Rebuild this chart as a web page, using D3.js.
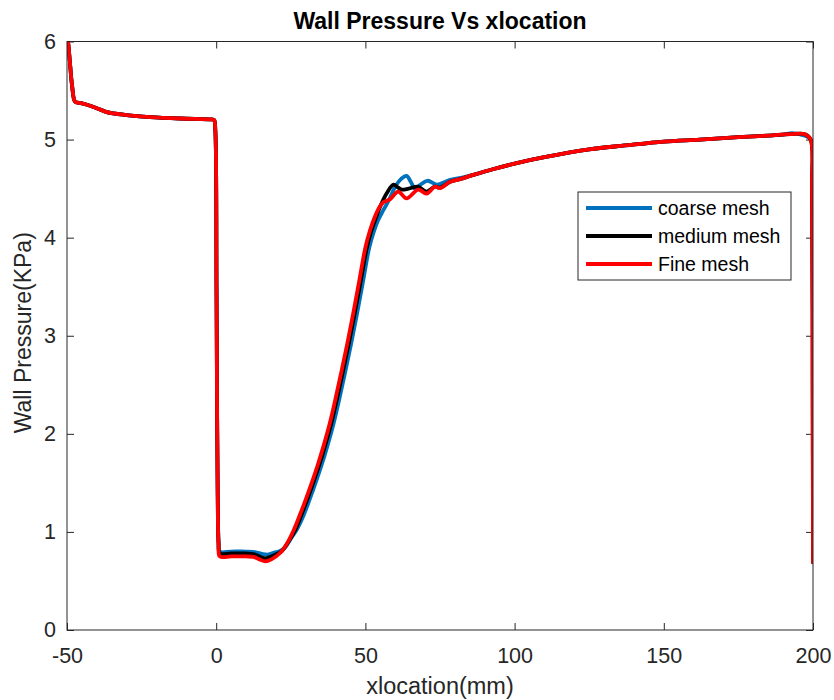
<!DOCTYPE html>
<html>
<head>
<meta charset="utf-8">
<script src="https://cdn.jsdelivr.net/npm/d3@7"></script>
<style>
  html, body { margin: 0; padding: 0; background: #fff; }
  svg { display: block; font-family: "Liberation Sans", Arial, Helvetica, sans-serif; }
</style>
</head>
<body>
<svg id="chart" width="834" height="700"></svg>
<script>
// Wall pressure along the wall for three mesh resolutions
const xTicks = [-50, 0, 50, 100, 150, 200];
const yTicks = [0, 1, 2, 3, 4, 5, 6];

const coarseX = [-50, -49.6, -49, -48.3, -47.3, -46, -44.5, -40, -36.7, -30, -22.2, -12, -1.5, -0.7, -0.3, 0.1, 0.3, 0.5, 0.8, 1.2,
  5, 10, 13, 15.5, 17.5, 19.5, 21, 23, 25, 27.3, 29.3, 31.3, 33.3, 35.3, 37.3, 39.3, 41.3, 43.3, 45.3, 47.3,
  49.3, 51.3, 52.8, 54.3, 56, 58, 60, 62, 63.8, 65.2, 66.6, 68.5, 70.7, 72.5, 73.9, 76, 78.4, 82, 86.2, 93,
  100.7, 110, 125, 137, 150, 162, 175, 185, 190, 193, 196, 199.2, 199.7, 199.9, 200];
const coarseY = [6.05, 5.98, 5.78, 5.55, 5.385, 5.375, 5.365, 5.32, 5.28, 5.25, 5.23, 5.215, 5.205, 5.2, 5.1, 3.5, 2.2, 1.4, 0.9, 0.80,
  0.80, 0.80, 0.795, 0.775, 0.77, 0.79, 0.80, 0.84, 0.93, 1.04, 1.17, 1.33, 1.5, 1.68, 1.88, 2.1, 2.36, 2.64, 2.93, 3.24,
  3.57, 3.9, 4.06, 4.18, 4.28, 4.39, 4.52, 4.6, 4.63, 4.57, 4.50, 4.54, 4.58, 4.56, 4.54, 4.56, 4.59, 4.61, 4.64, 4.70,
  4.76, 4.82, 4.90, 4.94, 4.98, 5.00, 5.025, 5.04, 5.05, 5.065, 5.05, 5.0, 4.5, 2.5, 0.69];

const mediumX = [-50, -49.6, -49, -48.3, -47.3, -46, -44.5, -40, -36.7, -30, -22.2, -12, -1.5, -0.7, -0.3, 0.1, 0.3, 0.5, 0.8, 1.2,
  5, 10, 12.5, 14.5, 16.5, 18.5, 21.8, 24.2, 26.5, 28.5, 30.5, 32.5, 34.5, 36.5, 38.5, 40.5, 42.5, 44.5, 46.5, 48.5,
  50.5, 52, 53.5, 55, 57.1, 59.4, 61, 62.2, 64.5, 67.6, 70.5, 73.3, 75, 78.4, 82, 86.2, 93, 100.7, 110, 125,
  137, 150, 162, 175, 185, 192.3, 197.3, 199.2, 199.7, 199.9, 200];
const mediumY = [6.05, 5.98, 5.78, 5.55, 5.385, 5.375, 5.365, 5.32, 5.28, 5.25, 5.23, 5.215, 5.205, 5.2, 5.1, 3.5, 2.2, 1.4, 0.88, 0.78,
  0.78, 0.78, 0.775, 0.75, 0.73, 0.75, 0.80, 0.9, 1.02, 1.17, 1.33, 1.5, 1.68, 1.88, 2.1, 2.36, 2.64, 2.93, 3.24, 3.57,
  3.9, 4.07, 4.2, 4.32, 4.45, 4.54, 4.51, 4.49, 4.50, 4.52, 4.47, 4.52, 4.51, 4.57, 4.60, 4.64, 4.70, 4.76, 4.82, 4.90,
  4.94, 4.98, 5.00, 5.025, 5.04, 5.055, 5.055, 5.0, 4.5, 2.5, 0.69];

const fineX = [-50, -49.6, -49, -48.3, -47.3, -46, -44.5, -40, -36.7, -30, -22.2, -12, -1.5, -0.7, -0.3, 0.1, 0.3, 0.5, 0.8, 1.2,
  5, 10, 12.5, 14.5, 16.4, 18.5, 21.4, 23.7, 26, 28, 30, 32, 34, 36, 38, 40, 42, 44, 46, 48,
  50, 51.5, 53, 54.5, 56, 58.2, 61, 63.8, 67.7, 70.5, 73.3, 75, 78.4, 82, 86.2, 93, 100.7, 110, 125, 137,
  150, 162, 175, 185, 192.3, 197.3, 199.2, 199.7, 199.9, 200];
const fineY = [6.05, 5.98, 5.78, 5.55, 5.385, 5.375, 5.365, 5.32, 5.28, 5.25, 5.23, 5.215, 5.205, 5.2, 5.1, 3.5, 2.2, 1.4, 0.85, 0.75,
  0.75, 0.75, 0.745, 0.72, 0.70, 0.72, 0.785, 0.88, 1.02, 1.17, 1.33, 1.5, 1.68, 1.88, 2.1, 2.36, 2.64, 2.93, 3.24, 3.57,
  3.9, 4.07, 4.2, 4.3, 4.36, 4.39, 4.47, 4.40, 4.49, 4.45, 4.52, 4.505, 4.57, 4.60, 4.64, 4.70, 4.76, 4.82, 4.90, 4.94,
  4.98, 5.00, 5.025, 5.04, 5.055, 5.055, 5.0, 4.5, 2.5, 0.69];

const seriesNames = ["coarse mesh", "medium mesh", "Fine mesh"];
const seriesColors = ["#0072BD", "#000000", "#FF0000"];

const series = [
  { name: seriesNames[0], color: seriesColors[0], pts: d3.zip(coarseX, coarseY) },
  { name: seriesNames[1], color: seriesColors[1], pts: d3.zip(mediumX, mediumY) },
  { name: seriesNames[2], color: seriesColors[2], pts: d3.zip(fineX, fineY) }
];

const svg = d3.select("#chart");
const plotLeft = 67, plotRight = 813, plotTop = 41.5, plotBottom = 630;
const axisColor = "#262626";

const x = d3.scaleLinear().domain([-50, 200]).range([plotLeft, plotRight]);
const y = d3.scaleLinear().domain([0, 6]).range([plotBottom, plotTop]);

svg.append("defs").append("clipPath").attr("id", "plotClip")
  .append("rect").attr("x", plotLeft).attr("y", plotTop)
  .attr("width", plotRight - plotLeft).attr("height", plotBottom - plotTop);

// axes with inward ticks on all four sides
const tickLen = 7;
const plainNumber = d => String(d);
function styleAxis(g) {
  g.select(".domain").remove();
  g.selectAll(".tick line").attr("stroke", axisColor).attr("stroke-width", 1);
  g.selectAll(".tick text").attr("fill", axisColor).attr("font-size", 21.5);
}
svg.append("g").attr("transform", `translate(0,${plotBottom})`)
  .call(d3.axisBottom(x).tickValues(xTicks).tickSizeInner(-tickLen).tickSizeOuter(0).tickPadding(18).tickFormat(plainNumber))
  .call(styleAxis);
svg.append("g").attr("transform", `translate(0,${plotTop})`)
  .call(d3.axisTop(x).tickValues(xTicks).tickSizeInner(-tickLen).tickSizeOuter(0).tickFormat(""))
  .call(styleAxis);
svg.append("g").attr("transform", `translate(${plotLeft},0)`)
  .call(d3.axisLeft(y).tickValues(yTicks).tickSizeInner(-tickLen).tickSizeOuter(0).tickPadding(11).tickFormat(plainNumber))
  .call(styleAxis);
svg.append("g").attr("transform", `translate(${plotRight},0)`)
  .call(d3.axisRight(y).tickValues(yTicks).tickSizeInner(-tickLen).tickSizeOuter(0).tickFormat(""))
  .call(styleAxis);

// curves
const line = d3.line()
  .x(d => x(d[0]))
  .y(d => y(d[1]))
  .curve(d3.curveCatmullRom.alpha(0.5));

svg.append("g").attr("clip-path", "url(#plotClip)")
  .selectAll("path").data(series).join("path")
  .attr("d", d => line(d.pts))
  .attr("fill", "none")
  .attr("stroke", d => d.color)
  .attr("stroke-width", 3.8)
  .attr("stroke-linejoin", "round")
  .attr("stroke-linecap", "round");

// frame
svg.append("rect")
  .attr("x", plotLeft).attr("y", plotTop).attr("width", plotRight - plotLeft).attr("height", plotBottom - plotTop)
  .attr("fill", "none").attr("stroke", axisColor).attr("stroke-width", 1);

// titles
svg.append("text").attr("x", (plotLeft + plotRight) / 2).attr("y", 29)
  .attr("text-anchor", "middle").attr("font-weight", "bold").attr("font-size", 23)
  .attr("fill", "#000").text("Wall Pressure Vs xlocation");
svg.append("text").attr("x", (plotLeft + plotRight) / 2).attr("y", 694)
  .attr("text-anchor", "middle").attr("font-size", 23.5).attr("fill", axisColor)
  .text("xlocation(mm)");
svg.append("text").attr("transform", `translate(31,${(plotTop + plotBottom) / 2 - 3}) rotate(-90)`)
  .attr("text-anchor", "middle").attr("font-size", 23).attr("fill", axisColor)
  .text("Wall Pressure(KPa)");

// legend
const lg = svg.append("g");
lg.append("rect").attr("x", 578).attr("y", 192).attr("width", 213).attr("height", 88)
  .attr("fill", "#fff").attr("stroke", axisColor).attr("stroke-width", 1);
const rowY = [208, 236, 264];
series.forEach((s, i) => {
  lg.append("line").attr("x1", 586).attr("x2", 652).attr("y1", rowY[i]).attr("y2", rowY[i])
    .attr("stroke", s.color).attr("stroke-width", 3.8);
  lg.append("text").attr("x", 658).attr("y", rowY[i]).attr("dy", "0.35em")
    .attr("font-size", 19.5).attr("fill", "#000").text(s.name);
});
</script>
</body>
</html>
